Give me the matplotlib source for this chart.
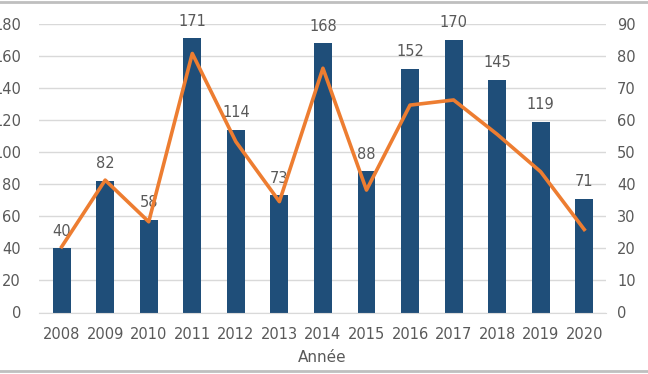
import matplotlib.pyplot as plt
from matplotlib.lines import Line2D
import numpy as np

years = ['2008', '2009', '2010', '2011', '2012', '2013', '2014',
         '2015', '2016', '2017', '2018', '2019', '2020']
counts = [40, 82, 58, 171, 114, 73, 168, 88, 152, 170, 145, 119, 71]
# orange line, read against the right axis
line_vals = [20.5, 41.3, 28.3, 80.8, 53.3, 34.6, 76.2, 38.2, 64.7, 66.3, 55.6, 43.9, 25.9]

grey = '#595959'
plt.rcParams['font.family'] = 'DejaVu Sans'

fig = plt.figure(figsize=(6.48, 3.74), dpi=100)
ax = fig.add_axes([39 / 648, 1 - 312.5 / 374, 567 / 648, 288.5 / 374])
x = np.arange(len(years))

ax.bar(x, counts, width=0.41, color='#1F4E79', zorder=2)
for xi, c in zip(x, counts):
    ax.annotate(str(c), (xi, c), xytext=(0, 7), textcoords='offset points',
                ha='center', va='bottom', fontsize=10.5, color=grey)

ax.set_xlim(-0.52, 12.5)
ax.set_ylim(0, 180)
ax.set_yticks(range(0, 181, 20))
ax.set_xticks(x)
ax.set_xticklabels(years)
ax.grid(axis='y', color='#D9D9D9', linewidth=1, zorder=0)
ax.set_axisbelow(True)
for s in ['top', 'right', 'left']:
    ax.spines[s].set_visible(False)
ax.spines['bottom'].set_color('#D9D9D9')
ax.tick_params(axis='both', length=0, labelsize=10.5, labelcolor=grey)
ax.tick_params(axis='y', pad=13)
ax.tick_params(axis='x', pad=10.5)
ax.set_xlabel('Année', fontsize=11, color=grey, labelpad=6)

ax2 = ax.twinx()
ax2.plot(x, line_vals, color='#ED7D31', linewidth=2.6, zorder=3)
ax2.set_ylim(0, 90)
ax2.set_yticks(range(0, 91, 10))
for s in ax2.spines.values():
    s.set_visible(False)
ax2.tick_params(axis='y', length=0, labelsize=10.5, labelcolor=grey, pad=8)

# grey frame lines at top and bottom of the picture
fig.add_artist(Line2D([0, 1], [0.995, 0.995], color='#BFBFBF', linewidth=2))
fig.add_artist(Line2D([0, 1], [0.008, 0.008], color='#BFBFBF', linewidth=2))

fig.savefig('out.png', dpi=100)
